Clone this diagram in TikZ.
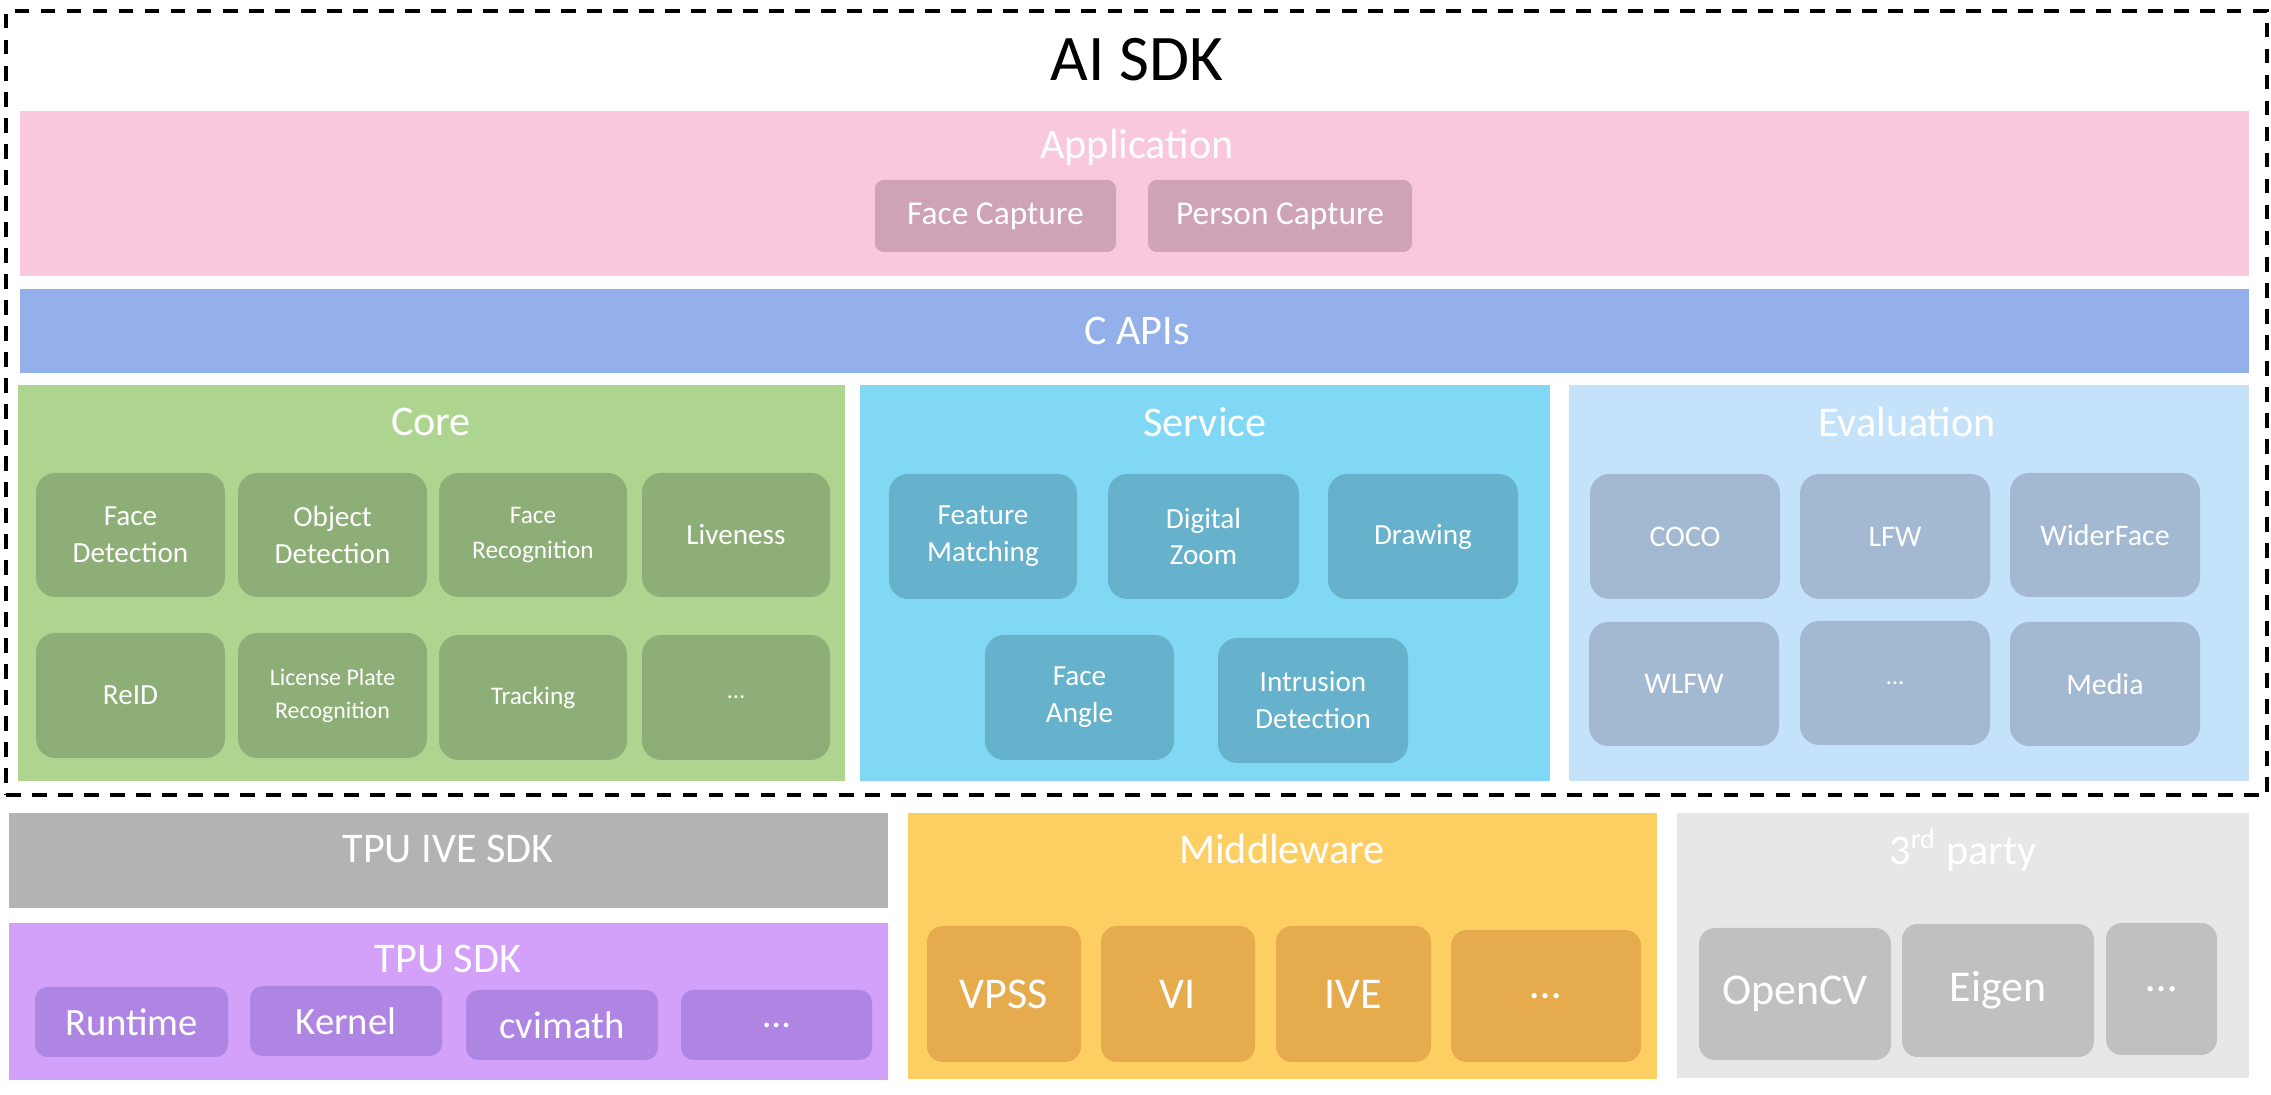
\documentclass[tikz,border=0pt]{standalone}
\usepackage{fontspec}
\setmainfont{Carlito}
\definecolor{pinkbg}{HTML}{F9C8DC}
\definecolor{pinkbx}{HTML}{CEA3B5}
\definecolor{apibg}{HTML}{93B0EA}
\definecolor{corebg}{HTML}{AED590}
\definecolor{corebx}{HTML}{8DAE76}
\definecolor{servbg}{HTML}{80D8F4}
\definecolor{servbx}{HTML}{66B1CC}
\definecolor{evalbg}{HTML}{C5E2FB}
\definecolor{evalbx}{HTML}{A3B9D2}
\definecolor{ivebg}{HTML}{B5B2B2}
\definecolor{tpubg}{HTML}{D3A0FA}
\definecolor{tpubx}{HTML}{AF85E4}
\definecolor{midbg}{HTML}{FDCF62}
\definecolor{midbx}{HTML}{E5AB4D}
\definecolor{thirdbg}{HTML}{E7E7E8}
\definecolor{thirdbx}{HTML}{C0C0C0}
\newcommand\mkbox[7]{\node[#6, minimum width={(#4-#2)*0.01cm}, minimum height={(#5-#3)*0.01cm}] (#1) at ({(#2+#4)/2},{(#3+#5)/2}) {#7};}
\begin{document}
\begin{tikzpicture}[x=0.01cm,y=-0.01cm,
  base/.style={inner sep=0pt, outer sep=0pt, align=center, text=white},
  band/.style={base, rectangle},
  inbox/.style={base, rectangle, rounded corners=5.5pt},
  appbox/.style={base, rectangle, rounded corners=2.5pt, fill=pinkbx, font=\fontsize{9.5}{11}\selectfont},
  corebox/.style={inbox, fill=corebx, font=\fontsize{8.3}{10.5}\selectfont},
  servbox/.style={inbox, fill=servbx, font=\fontsize{8.3}{10.5}\selectfont},
  evalbox/.style={inbox, fill=evalbx, font=\fontsize{8.5}{10.5}\selectfont},
  tpubox/.style={base, rectangle, rounded corners=3.5pt, fill=tpubx, font=\fontsize{11}{13}\selectfont},
  midbox/.style={inbox, rounded corners=4.5pt, fill=midbx, font=\fontsize{12.5}{14}\selectfont},
  thirdbox/.style={inbox, rounded corners=4.5pt, fill=thirdbx, font=\fontsize{12.5}{14}\selectfont},
  sectitle/.style={inner sep=0pt, text=white, font=\fontsize{12}{14}\selectfont},
  frame/.style={draw=black, line width=0.9pt, dash pattern=on 4.2pt off 3.2pt}
]
\useasboundingbox (0,0) rectangle (2271,1095);
\fill[white] (0,0) rectangle (2271,1095);

% dashed frame
\mkbox{sdk}{6}{11}{2267}{795}{frame, inner sep=0pt, outer sep=0pt}{}
\node[inner sep=0pt, font=\fontsize{18.5}{20}\selectfont] (title) at (1137,60) {AI SDK};

% Application
\mkbox{app}{20}{111}{2249}{276}{band, fill=pinkbg}{}
\node[sectitle] (apptitle) at (1137,147) {Application};
\mkbox{fcap}{875}{180}{1116}{252}{appbox}{Face Capture}
\mkbox{pcap}{1148}{180}{1412}{252}{appbox}{Person Capture}

% C APIs
\mkbox{capi}{20}{289}{2249}{373}{band, fill=apibg}{}
\node[sectitle] (capititle) at (1137,331) {C APIs};

% Core
\mkbox{core}{18}{385}{845}{781}{band, fill=corebg}{}
\node[sectitle] (coretitle) at (431,422) {Core};
\mkbox{fd}{36}{473}{225}{597}{corebox}{Face\\Detection}
\mkbox{od}{238}{473}{427}{597}{corebox}{Object\\Detection}
\mkbox{fr}{439}{473}{627}{597}{corebox, font=\fontsize{7.2}{10}\selectfont}{Face\\Recognition}
\mkbox{lv}{642}{473}{830}{597}{corebox}{Liveness}
\mkbox{reid}{36}{633}{225}{758}{corebox}{ReID}
\mkbox{lpr}{238}{633}{427}{758}{corebox, font=\fontsize{6.8}{9.5}\selectfont}{License Plate\\Recognition}
\mkbox{trk}{439}{635}{627}{760}{corebox, font=\fontsize{7.2}{10}\selectfont}{Tracking}
\mkbox{cdots}{642}{635}{830}{760}{corebox, font=\fontsize{7}{10}\selectfont}{…}

% Service
\mkbox{serv}{860}{385}{1550}{781}{band, fill=servbg}{}
\node[sectitle] (servtitle) at (1205,422) {Service};
\mkbox{fm}{889}{474}{1077}{599}{servbox}{Feature\\Matching}
\mkbox{dz}{1108}{474}{1299}{599}{servbox}{Digital\\Zoom}
\mkbox{drw}{1328}{474}{1518}{599}{servbox}{Drawing}
\mkbox{fa}{985}{635}{1174}{760}{servbox}{Face\\Angle}
\mkbox{intr}{1218}{638}{1408}{763}{servbox}{Intrusion\\Detection}

% Evaluation
\mkbox{eval}{1569}{385}{2249}{781}{band, fill=evalbg}{}
\node[sectitle] (evaltitle) at (1907,422) {Evaluation};
\mkbox{coco}{1590}{474}{1780}{599}{evalbox}{COCO}
\mkbox{lfw}{1800}{474}{1990}{599}{evalbox}{LFW}
\mkbox{wf}{2010}{473}{2200}{597}{evalbox}{WiderFace}
\mkbox{wlfw}{1589}{622}{1779}{746}{evalbox}{WLFW}
\mkbox{edots}{1800}{621}{1990}{745}{evalbox, font=\fontsize{7}{10}\selectfont}{…}
\mkbox{media}{2010}{622}{2200}{746}{evalbox}{Media}

% TPU IVE SDK
\mkbox{ive}{9}{813}{888}{908}{band, fill=ivebg}{}
\node[sectitle] (ivetitle) at (448,849) {TPU IVE SDK};

% TPU SDK
\mkbox{tpu}{9}{923}{888}{1080}{band, fill=tpubg}{}
\node[sectitle] (tputitle) at (448,959) {TPU SDK};
\mkbox{rt}{35}{987}{228}{1057}{tpubox}{Runtime}
\mkbox{kn}{250}{986}{442}{1056}{tpubox}{Kernel}
\mkbox{cvm}{466}{990}{658}{1060}{tpubox}{cvimath}
\mkbox{tdots}{681}{990}{872}{1060}{tpubox}{…}

% Middleware
\mkbox{mid}{908}{813}{1657}{1079}{band, fill=midbg}{}
\node[sectitle] (midtitle) at (1282,849) {Middleware};
\mkbox{vpss}{927}{926}{1081}{1062}{midbox}{VPSS}
\mkbox{vi}{1101}{926}{1255}{1062}{midbox}{VI}
\mkbox{ivem}{1276}{926}{1431}{1062}{midbox}{IVE}
\mkbox{mdots}{1451}{930}{1641}{1062}{midbox}{…}

% 3rd party
\mkbox{third}{1677}{813}{2249}{1078}{band, fill=thirdbg}{}
\node[sectitle] (thirdtitle) at (1963,850) {3\textsuperscript{rd} party};
\mkbox{ocv}{1699}{928}{1891}{1060}{thirdbox}{OpenCV}
\mkbox{eig}{1902}{924}{2094}{1057}{thirdbox}{Eigen}
\mkbox{pdots}{2106}{923}{2217}{1055}{thirdbox}{…}
\end{tikzpicture}
\end{document}
